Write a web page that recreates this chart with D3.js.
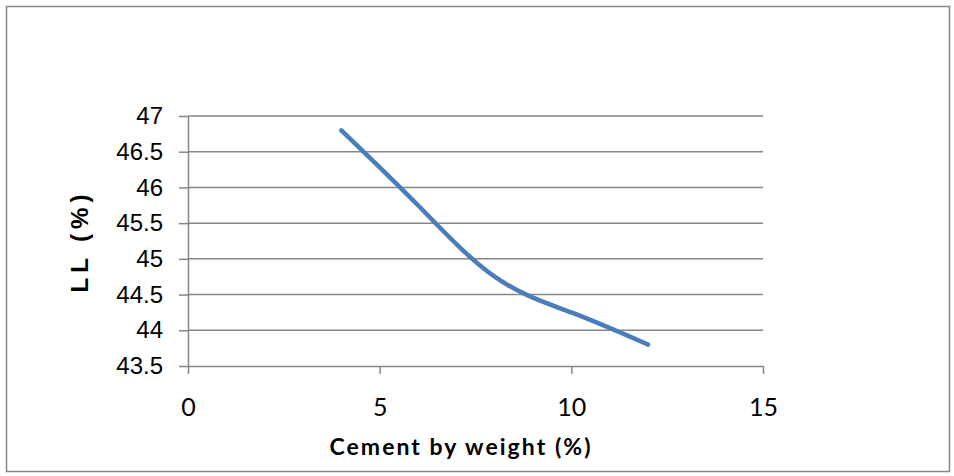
<!DOCTYPE html>
<html>
<head>
<meta charset="utf-8">
<script src="https://cdn.jsdelivr.net/npm/d3@7"></script>
<style>
  body { margin: 0; background: #fff; }
  svg { display: block; }
  .grid line { stroke: #868686; stroke-width: 1.5; }
  .ytick text { font-family: "Liberation Sans", Arial, sans-serif; font-size: 24px; fill: #000; }
  .xtick text { font-family: Lato, "Open Sans", sans-serif; font-size: 25px; fill: #000; }
</style>
</head>
<body>
<div id="chart"></div>
<script>
// values
var cement = [4, 6, 8, 10, 12];
var ll = [46.8, 45.75, 44.75, 44.25, 43.8];
var xTicks = [0, 5, 10, 15];
var yTicks = [43.5, 44, 44.5, 45, 45.5, 46, 46.5, 47];

var W = 954, H = 476;
var plot = {left: 188, right: 763, top: 116, bottom: 366};

var svg = d3.select("#chart").append("svg")
    .attr("width", W)
    .attr("height", H);

// outer frame
svg.append("rect")
    .attr("x", 6.5).attr("y", 6.5)
    .attr("width", 943).attr("height", 465)
    .attr("fill", "#fff")
    .attr("stroke", "#868686")
    .attr("stroke-width", 1.5);

var x = d3.scaleLinear().domain([0, 15]).range([plot.left, plot.right]);
var y = d3.scaleLinear().domain([43.5, 47]).range([plot.bottom, plot.top]);

// horizontal gridlines
svg.append("g").attr("class", "grid")
    .selectAll("line")
    .data(yTicks.slice(1))
    .join("line")
    .attr("x1", plot.left).attr("x2", plot.right)
    .attr("y1", d => y(d)).attr("y2", d => y(d));

// y axis
var yAxis = svg.append("g").attr("class", "ytick")
    .attr("transform", "translate(" + plot.left + ",0)")
    .call(d3.axisLeft(y).tickValues(yTicks).tickSize(9).tickSizeOuter(0).tickPadding(16)
        .tickFormat(d3.format("")));
yAxis.selectAll("line, path").attr("stroke", "#868686").attr("stroke-width", 1.5);

// x axis
var xAxis = svg.append("g").attr("class", "xtick")
    .attr("transform", "translate(0," + plot.bottom + ")")
    .call(d3.axisBottom(x).tickValues(xTicks).tickSize(8).tickSizeOuter(0).tickPadding(24));
xAxis.selectAll("line, path").attr("stroke", "#868686").attr("stroke-width", 1.5);

// smoothed line
var line = d3.line()
    .x((d, i) => x(cement[i]))
    .y(d => y(d))
    .curve(d3.curveNatural);

svg.append("path")
    .datum(ll)
    .attr("d", line)
    .attr("fill", "none")
    .attr("stroke", "#4A7EBB")
    .attr("stroke-width", 4.5)
    .attr("stroke-linecap", "round");

// axis titles
var xTitle = svg.append("text")
    .attr("x", 461).attr("y", 455)
    .attr("text-anchor", "middle")
    .style("font-family", "Lato, 'Open Sans', sans-serif")
    .style("font-weight", "bold")
    .style("font-size", "23px")
    .text("Cement by weight (%)");
// spread letters to the width seen in the picture (about 261px)
var xLen = xTitle.node().getComputedTextLength();
xTitle.style("letter-spacing", Math.max(0, (261 - xLen) / 19) + "px");

svg.append("text")
    .attr("transform", "translate(88," + ((plot.top + plot.bottom) / 2) + ") rotate(-90)")
    .attr("text-anchor", "middle")
    .style("font-family", "'Liberation Sans', Arial, sans-serif")
    .style("font-weight", "bold")
    .style("font-size", "24px")
    .style("letter-spacing", "5px")
    .text("LL (%)");
</script>
</body>
</html>
